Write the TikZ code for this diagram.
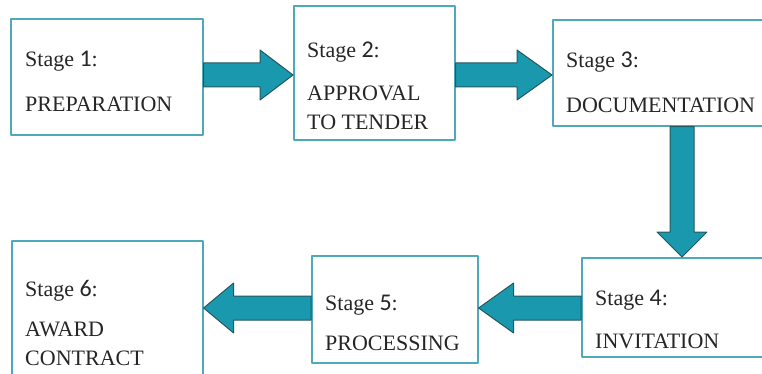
\documentclass[tikz,border=0pt]{standalone}
\usepackage{fontspec}
\setmainfont{Liberation Serif}
\newfontfamily\digitfont{Carlito}
\usetikzlibrary{calc}
\definecolor{ufazby}{rgb}{0.31,0.663,0.722}
\definecolor{razyae}{rgb}{0.102,0.596,0.682}
\definecolor{suvyvf}{rgb}{0.141,0.345,0.373}

\tikzset{
  stagebox/.style={draw=ufazby,line width=1.6pt,fill=white,anchor=north west,inner sep=0pt},
  stagetext/.style={font=\fontsize{22}{29}\selectfont,anchor=base west,align=left,inner sep=0pt,text=black!85},
  bigarrow/.style={fill=razyae,draw=suvyvf,line width=1pt}
}
\newcommand{\nr}[1]{{\digitfont\fontsize{24}{29}\selectfont #1}}
% fat arrow from #2 to the tip #3, #1 is the head length
\newcommand{\stagearrow}[3][32pt]{%
  \coordinate (hb) at ($(#3)!#1!(#2)$);
  \filldraw[bigarrow] ($(#2)!12pt!90:(#3)$) -- ($(hb)!12pt!90:(#3)$) -- ($(hb)!25pt!90:(#3)$)
    -- (#3) -- ($(hb)!25pt!-90:(#3)$) -- ($(hb)!12pt!-90:(#3)$) -- ($(#2)!12pt!-90:(#3)$) -- cycle;}

\begin{document}
\begin{tikzpicture}[line cap=round,line join=round,x=1pt,y=-1pt]
		\clip(0,0) rectangle (762,374);
		\fill[white] (0,0) rectangle (762,374);
		\coordinate (ya) at (0,75);
		\coordinate (yb) at (0,308);
		\coordinate (xc) at (682,0);
		% top row
		\node[stagebox,minimum width=192pt,minimum height=116pt] (s1) at (10,18) {};
		\node[stagebox,minimum width=161pt,minimum height=134pt] (s2) at (293,5) {};
		\node[stagebox,minimum width=230pt,minimum height=106pt] (s3) at (552,19) {};
		% bottom row
		\node[stagebox,minimum width=200pt,minimum height=99pt] (s4) at (581,257) {};
		\node[stagebox,minimum width=166pt,minimum height=107pt] (s5) at (311,255) {};
		\node[stagebox,minimum width=191pt,minimum height=150pt] (s6) at (11,240) {};
			% texts sit on the baseline of their last line
			\node[stagetext] (t1) at (25,112) {Stage \nr{1}:\\[16pt]PREPARATION};
			\node[stagetext] (t2) at (307,130) {Stage \nr{2}:\\[14pt]APPROVAL\\TO TENDER};
			\node[stagetext] (t3) at (566,113) {Stage \nr{3}:\\[16pt]DOCUMENTATION};
			\node[stagetext] (t4) at (595,348) {Stage \nr{4}:\\[14pt]INVITATION};
			\node[stagetext] (t5) at (325,350) {Stage \nr{5}:\\[11pt]PROCESSING};
			\node[stagetext] (t6) at (25,365) {Stage \nr{6}:\\[11pt]AWARD\\CONTRACT};
		% arrows between the stages
		\stagearrow[33pt]{s1.east |- ya}{s2.west |- ya}
		\stagearrow[35pt]{s2.east |- ya}{s3.west |- ya}
		\stagearrow[25pt]{xc |- s3.south}{xc |- s4.north}
		\stagearrow[35pt]{s4.west |- yb}{s5.east |- yb}
		\stagearrow[30pt]{s5.west |- yb}{s6.east |- yb}
\end{tikzpicture}
\end{document}
